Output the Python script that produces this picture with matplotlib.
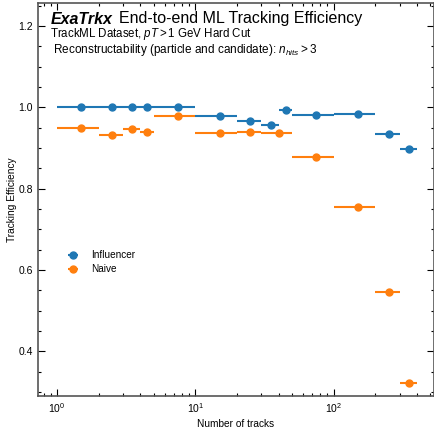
import numpy as np
import matplotlib.pyplot as plt
from matplotlib.ticker import MultipleLocator, LogLocator, NullFormatter

plt.rcParams['font.family'] = ['Liberation Sans', 'DejaVu Sans']
plt.rcParams['mathtext.fontset'] = 'custom'
plt.rcParams['mathtext.rm'] = 'Liberation Sans'
plt.rcParams['mathtext.it'] = 'Liberation Sans:italic'
plt.rcParams['mathtext.bf'] = 'Liberation Sans:bold'

# bins in number of tracks
infl_lo = [1, 2, 3, 4, 5, 10, 20, 30, 40, 50, 100, 200, 300]
infl_hi = [2, 3, 4, 5, 10, 20, 30, 40, 50, 100, 200, 300, 400]
infl_eff = [1.0, 1.0, 1.0, 1.0, 1.0, 0.979, 0.966, 0.956, 0.994, 0.982, 0.983, 0.935, 0.898]

naive_lo = [1, 2, 3, 4, 5, 10, 20, 30, 50, 100, 200, 300]
naive_hi = [2, 3, 4, 5, 10, 20, 30, 50, 100, 200, 300, 400]
naive_eff = [0.949, 0.933, 0.948, 0.939, 0.979, 0.938, 0.940, 0.938, 0.879, 0.754, 0.546, 0.322]


def centers(lo, hi):
    lo = np.array(lo, dtype=float)
    hi = np.array(hi, dtype=float)
    c = (lo + hi) / 2
    return c, [c - lo, hi - c]


fig = plt.figure(figsize=(4.34, 4.30), dpi=100)
ax = fig.add_axes([0.0876, 0.079, 0.9124, 0.914])

xc, xe = centers(infl_lo, infl_hi)
ax.errorbar(xc, infl_eff, xerr=xe, fmt='o', color='#1f77b4', ms=5, lw=1.5,
            capsize=0, label='Influencer')
xc, xe = centers(naive_lo, naive_hi)
ax.errorbar(xc, naive_eff, xerr=xe, fmt='o', color='#ff7f0e', ms=5, lw=1.5,
            capsize=0, label='Naive')

ax.set_xscale('log')
ax.set_xlim(0.73, 530)
ax.set_ylim(0.29, 1.257)
ax.yaxis.set_major_locator(MultipleLocator(0.2))
ax.yaxis.set_minor_locator(MultipleLocator(0.05))
ax.xaxis.set_minor_locator(LogLocator(base=10, subs=np.arange(2, 10)))
ax.xaxis.set_minor_formatter(NullFormatter())

ax.tick_params(which='both', direction='in', top=True, right=True,
               labelsize=7.5, color='black', width=0.8)
ax.tick_params(which='major', length=5)
ax.tick_params(which='minor', length=2.5)
for s in ax.spines.values():
    s.set_color('#555555')
    s.set_linewidth(1.2)

ax.set_xlabel('Number of tracks', fontsize=7.3, labelpad=3)
ax.set_ylabel('Tracking Efficiency', fontsize=7.3, labelpad=1)

fig.text(51 / 434, 1 - 23.5 / 430, 'ExaTrkx', fontsize=11.5, fontweight='bold',
         style='italic')
fig.text(119 / 434, 1 - 23.5 / 430, 'End-to-end ML Tracking Efficiency', fontsize=11.5)
fig.text(50 / 434, 1 - 37.5 / 430, r'TrackML Dataset, $pT > 1$ GeV Hard Cut', fontsize=8.3)
fig.text(50 / 434, 1 - 52.5 / 430,
         r' Reconstructability (particle and candidate): $n_{hits} > 3$', fontsize=8.5)

ax.legend(loc='center left', bbox_to_anchor=(0.05, 0.34), frameon=False,
          fontsize=7.2, handlelength=1.2, handletextpad=1.2, labelspacing=0.4)

fig.savefig('out.png', dpi=100)
